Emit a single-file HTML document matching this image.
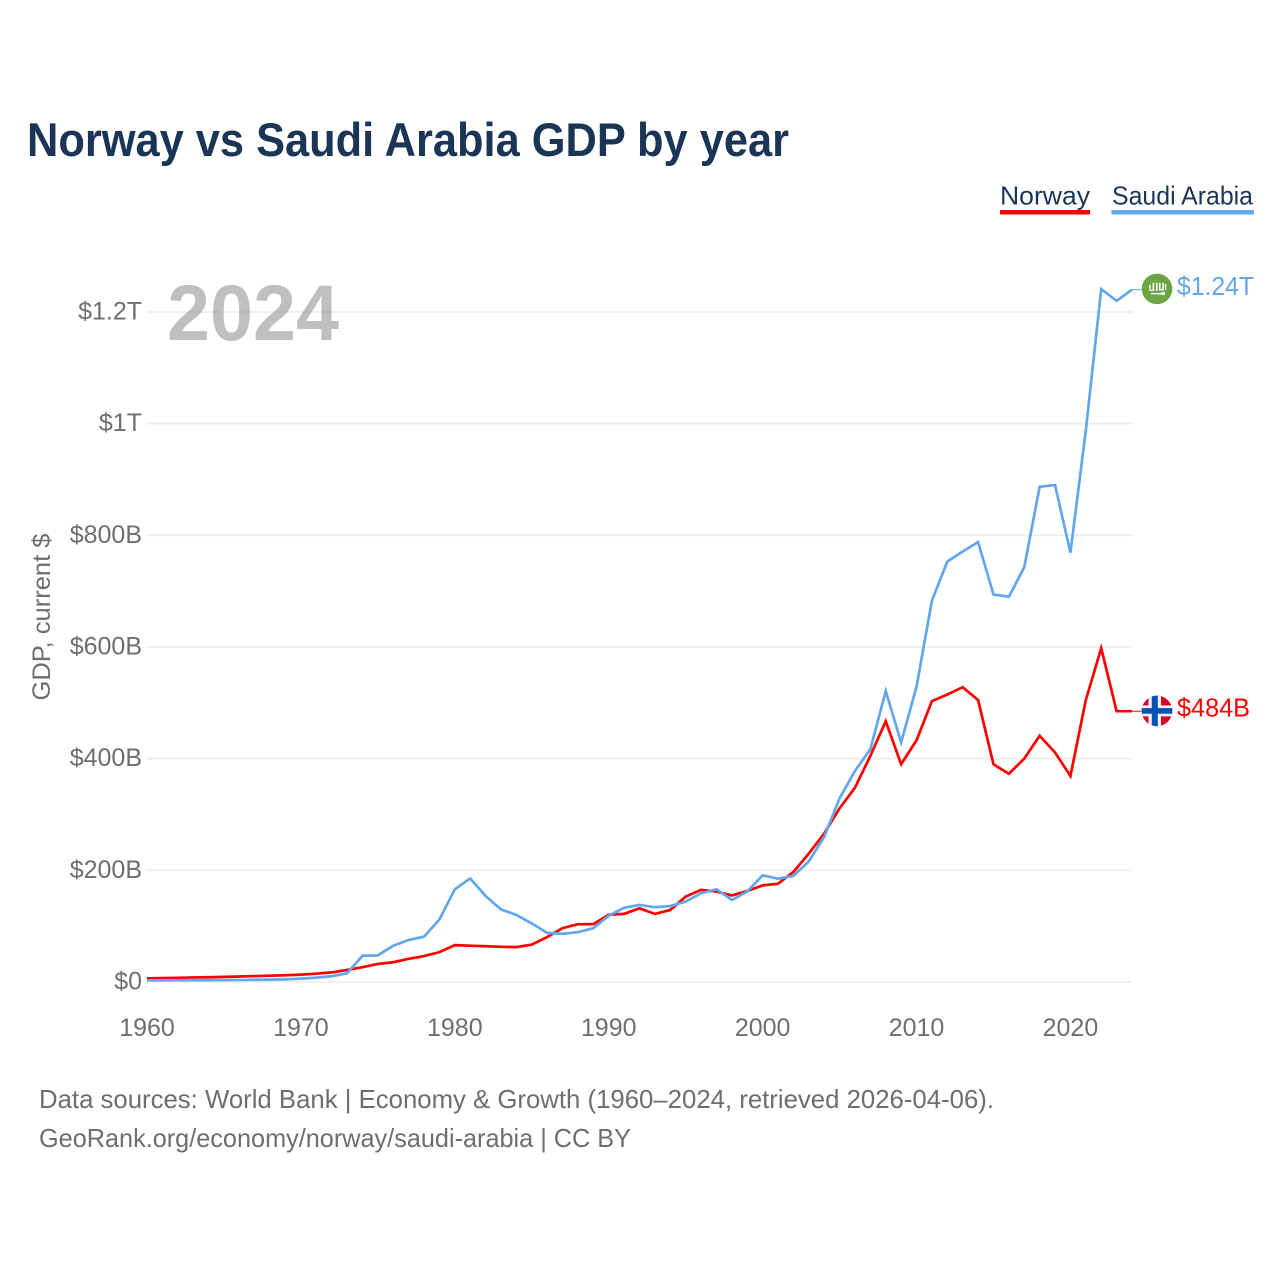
<!DOCTYPE html>
<html lang="en">
<head>
<meta charset="utf-8">
<title>Norway vs Saudi Arabia GDP by year</title>
<style>
html,body{margin:0;padding:0;background:#fff;}
svg{display:block;font-family:"Liberation Sans",sans-serif;}
</style>
</head>
<body>
<svg id="chart" xmlns="http://www.w3.org/2000/svg" width="1280" height="1280" viewBox="0 0 1280 1280">
  <rect x="0" y="0" width="1280" height="1280" fill="#ffffff"/>
  <text x="27" y="156" font-size="47" font-weight="700" fill="#1a3555" textLength="762" lengthAdjust="spacingAndGlyphs">Norway vs Saudi Arabia GDP by year</text>

  <g>
    <g>
      <text x="1000" y="204.5" font-size="26" fill="#1a3555" textLength="90" lengthAdjust="spacingAndGlyphs">Norway</text>
      <rect x="1000" y="210" width="90" height="4.5" fill="#ff0000"/>
    </g>
    <g>
      <text x="1112" y="204.5" font-size="26" fill="#1a3555" textLength="141" lengthAdjust="spacingAndGlyphs">Saudi Arabia</text>
      <rect x="1111.5" y="210" width="142.5" height="4.5" fill="#62a6ec"/>
    </g>
  </g>

  <g id="grid"></g>
  <text x="167" y="340" font-size="79" font-weight="700" fill="#808080" fill-opacity="0.5" textLength="172" lengthAdjust="spacingAndGlyphs">2024</text>
  <g id="yticks"></g>
  <g id="xticks"></g>
  <text transform="translate(50,617) rotate(-90)" text-anchor="middle" font-size="25" fill="#6e6e6e" textLength="167" lengthAdjust="spacingAndGlyphs">GDP, current $</text>
  <g id="series"></g>

  <g id="flag-saudi">
    <circle cx="0" cy="0" r="15.3" fill="#6da544"/>
    <path fill="#ffffff" d="M-8,-4h1.6v4h-1.6zM-8,0.6h5.5v1.4h-5.5zM-4.4,-6h1.6v8h-1.6zM-1,-6h1.6v8h-1.6zM2,-6h1.6v6h-1.6zM2,0h4v1.6h-4zM5.4,-6h1.6v7.6h-1.6zM8,-5h1.2v6h-1.2zM-6,4h10.5v1.5h-10.5zM4.5,3.2h3.5v2.8h-3.5z"/>
  </g>
  <g id="flag-norway">
    <clipPath id="norway-clip"><circle cx="0" cy="0" r="15.3"/></clipPath>
    <g clip-path="url(#norway-clip)">
      <rect x="-16" y="-16" width="32" height="32" fill="#d80027"/>
      <rect x="-8.5" y="-16" width="12.5" height="32" fill="#f0f0f0"/>
      <rect x="-16" y="-5.5" width="32" height="11" fill="#f0f0f0"/>
      <rect x="-5.2" y="-16" width="6" height="32" fill="#0052b4"/>
      <rect x="-16" y="-2.8" width="32" height="5.6" fill="#0052b4"/>
    </g>
  </g>
  <text id="value-saudi" x="1177" font-size="26" fill="#62a6ec" textLength="77" lengthAdjust="spacingAndGlyphs"></text>
  <text id="value-norway" x="1177" font-size="26" fill="#ff0000" textLength="73" lengthAdjust="spacingAndGlyphs"></text>

  <text x="39" y="1108" font-size="26" fill="#6e6e6e" textLength="955" lengthAdjust="spacingAndGlyphs">Data sources: World Bank | Economy &amp; Growth (1960–2024, retrieved 2026-04-06).</text>
  <text x="39" y="1147" font-size="26" fill="#6e6e6e" textLength="592" lengthAdjust="spacingAndGlyphs">GeoRank.org/economy/norway/saudi-arabia | CC BY</text>
</svg>
<script>
const years = [1960,1961,1962,1963,1964,1965,1966,1967,1968,1969,1970,1971,1972,1973,1974,1975,1976,1977,1978,1979,1980,1981,1982,1983,1984,1985,1986,1987,1988,1989,1990,1991,1992,1993,1994,1995,1996,1997,1998,1999,2000,2001,2002,2003,2004,2005,2006,2007,2008,2009,2010,2011,2012,2013,2014,2015,2016,2017,2018,2019,2020,2021,2022,2023,2024];
const norwayGdp = [6.6,7,7.5,8,8.5,9.2,9.9,10.6,11.3,12.1,13.2,14.9,17.2,21.5,26.5,32.3,35.4,41.5,46.5,53.5,66,65,64,63,62.5,67,80.5,96.5,103.5,103.5,120.5,122,132,122,129,153,165,162,155,163,173,176,197,230,266,311,348,405,467,390,433,503,515,528,505,390,373,400,441,411,369,505,598,485,485];
const saudiGdp = [3,3.1,3.2,3.3,3.4,3.5,3.7,4,4.3,4.7,6,7.8,10.3,15.6,47,47.7,65,75.2,81.3,112,166,185.5,154,130,120,105,88,86.3,89.3,96.3,118.6,133,138,134,136,144,159,166,147,162,191,185,190,216,260,329,378,417,521,429,529,683,753,771,788,694,690,743,887,890,769,988,1241,1220,1240];
const yTickValues = [0,200,400,600,800,1000,1200];
const yTickLabels = ["$0","$200B","$400B","$600B","$800B","$1T","$1.2T"];
const xTickValues = [1960,1970,1980,1990,2000,2010,2020];
const xTickLabels = ["1960","1970","1980","1990","2000","2010","2020"];
const norwayLatestLabel = "$484B";
const saudiLatestLabel = "$1.24T";

const NS = "http://www.w3.org/2000/svg";
function xScale(year){ return 147 + (year - 1960) * (1132 - 147) / 64; }
function yScale(v){ return 982 - v * (982 - 312) / 1200; }
function make(tag, parent, attrs){
  const el = document.createElementNS(NS, tag);
  for (const k in attrs) el.setAttribute(k, attrs[k]);
  parent.appendChild(el);
  return el;
}
const gridG = document.getElementById("grid");
const yG = document.getElementById("yticks");
const xG = document.getElementById("xticks");
const seriesG = document.getElementById("series");

yTickValues.forEach(function(v, i){
  const line = make("line", gridG, {x1:147, x2:1132, y1:yScale(v), y2:yScale(v), stroke:"#ebebeb", "stroke-width":1.6});
  
  
  const t = make("text", yG, {x:142, y:yScale(v)+7.5, "text-anchor":"end", "font-size":25, fill:"#6e6e6e"});
  
  
  t.textContent = yTickLabels[i];
});
xTickValues.forEach(function(y, i){
  const t = make("text", xG, {x:xScale(y), y:1036, "text-anchor":"middle", "font-size":25, fill:"#6e6e6e"});
  
  
  t.textContent = xTickLabels[i];
});
function pathFor(values){
  return values.map(function(v, i){
    return (i ? "L" : "M") + xScale(years[i]).toFixed(2) + "," + yScale(v).toFixed(2);
  }).join("");
}
const lineNorway = make("path", seriesG, {d:pathFor(norwayGdp), fill:"none", stroke:"#ff0000", "stroke-width":2.7, "stroke-linejoin":"miter"});


const lineSaudi = make("path", seriesG, {d:pathFor(saudiGdp), fill:"none", stroke:"#62a6ec", "stroke-width":2.7, "stroke-linejoin":"miter"});



const yN = yScale(norwayGdp[norwayGdp.length - 1]);
const yS = yScale(saudiGdp[saudiGdp.length - 1]);
const connN = make("line", seriesG, {x1:1132, x2:1142, y1:yN, y2:yN, stroke:"#ff0000", "stroke-width":1});


const connS = make("line", seriesG, {x1:1132, x2:1142, y1:yS, y2:yS, stroke:"#62a6ec", "stroke-width":1});



document.getElementById("flag-norway").setAttribute("transform", "translate(1157," + (yN - 0.3) + ")");
document.getElementById("flag-saudi").setAttribute("transform", "translate(1157," + (yS - 0.8) + ")");
const vN = document.getElementById("value-norway");
vN.setAttribute("y", yN + 5.5);
vN.textContent = norwayLatestLabel;
const vS = document.getElementById("value-saudi");
vS.setAttribute("y", yS + 5.5);
vS.textContent = saudiLatestLabel;
</script>
</body>
</html>
